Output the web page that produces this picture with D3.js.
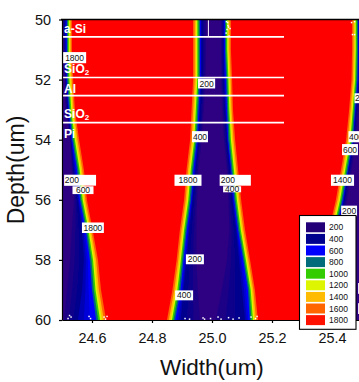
<!DOCTYPE html>
<html><head><meta charset="utf-8">
<script src="https://cdn.jsdelivr.net/npm/d3@7"></script>
<style>html,body{margin:0;padding:0;background:#fff;overflow:hidden}svg{display:block}text{font-family:"Liberation Sans",Arial,sans-serif}</style>
</head><body><div id="c"></div>
<script>
// Depth rows (um) at which the contour positions were read
const depths=[50,51,52,53,54,55,56,57,58,59,60];
// Width position (um) of contours, per depth row
const leftValley1800=[24.533,24.533,24.537,24.543,24.557,24.573,24.583,24.602,24.62,24.63,24.647];
const leftValley600 =[24.516,24.516,24.517,24.523,24.534,24.55,24.56,24.579,24.593,24.6,24.614];
const leftValley400 =[24.51,24.51,24.513,24.52,24.53,24.54,24.553,24.567,24.573,24.567,24.553];
const leftValley200 =[24.503,24.507,24.51,24.513,24.527,24.533,24.54,24.533,24.527,24.517,24.507];
const centerL1800=[24.937,24.937,24.937,24.932,24.927,24.915,24.907,24.893,24.882,24.868,24.85];
const centerR1800=[25.063,25.063,25.067,25.07,25.077,25.087,25.097,25.11,25.127,25.143,25.153];
const centerL600 =[24.96,24.96,24.96,24.955,24.95,24.938,24.93,24.916,24.905,24.895,24.877];
const centerR600 =[25.043,25.043,25.047,25.05,25.054,25.064,25.074,25.087,25.104,25.12,25.126];
const centerL400 =[24.965,24.965,24.965,24.96,24.955,24.945,24.935,24.925,24.915,24.905,24.895];
const centerR400 =[25.038,25.038,25.04,25.044,25.05,25.06,25.068,25.08,25.09,25.1,25.11];
const centerL200 =[24.98,24.98,24.978,24.972,24.965,24.955,24.95,24.948,24.948,24.952,24.96];
const centerR200 =[25.03,25.03,25.03,25.034,25.04,25.05,25.055,25.058,25.05,25.033,25.013];
const rightValley1800=[25.467,25.467,25.465,25.457,25.447,25.43,25.413,25.39,25.36,25.33,25.3];
const rightValley600 =[25.487,25.487,25.485,25.477,25.47,25.453,25.436,25.413,25.383,25.353,25.323];
const rightValley400 =[25.49,25.49,25.49,25.48,25.472,25.456,25.44,25.42,25.395,25.37,25.35];
const rightValley200 =[25.497,25.497,25.497,25.49,25.48,25.465,25.45,25.433,25.42,25.4,25.38];
// Colour levels: legend values and colours
const levels=[200,400,600,800,1000,1200,1400,1600,1800];
const legendColors=["#240078","#00008f","#0000ff","#006b7a","#33cc00","#ddf500","#ffbb00","#ff6600","#ff1100"];
const fieldColors={200:"#2d0082",400:"#00008f",600:"#0000ff",800:"#006b7a",1000:"#33cc00",1200:"#ddf500",1400:"#ffbb00",1600:"#ff6600"};
// Share of the 1800-to-600 transition at which each level sits
const transitionLevels=[1600,1400,1200,1000,800,600];
const transitionShare=[0,0.23,0.43,0.61,0.8,1];
// Blend steps between the stored contours
const blendSteps=[0.34,0.67];
// Layers
const layerNames=["a-Si","SiO","Al","SiO","Pi"];
const layerSub=[null,"2",null,"2",null];
const layerBaseline=[50.45,51.78,52.45,53.28,53.95];
const layerLines=[50.58,51.93,52.53,53.43];
const lineEnd=25.24;
// Contour labels
const labelText=["1800","200","200","400","400","600","1800","200","1400","200","600","400","1800","200","400","200"];
const labelX=[24.542,24.982,25.5,24.96,25.48,25.46,24.92,25.053,25.435,24.533,24.57,25.067,24.603,24.943,24.907,25.457];
const labelY=[51.27,52.13,52.62,53.9,53.9,54.33,55.35,55.35,55.35,55.35,55.68,55.65,56.93,57.98,59.18,56.37];
const labelW=[0.077,0.057,0.05,0.053,0.05,0.053,0.09,0.055,0.077,0.052,0.07,0.06,0.073,0.06,0.06,0.053];
const labelH=[0.37,0.33,0.33,0.37,0.37,0.37,0.37,0.37,0.37,0.37,0.26,0.2,0.35,0.33,0.33,0.35];
// Clipped fragments of white label boxes
const patchX=[24.585,25.103,25.497,25.497];
const patchY=[55.35,55.35,58.95,59.62];
const patchW=[0.057,0.053,0.02,0.02];
// White specks from clipped labels
const specksX=[25.048,25.052,25.055,25.05,25.06,25.047,25.057,25.053,25.465,25.475,25.468,25.475,24.52,24.53,24.525,24.595,24.59,24.64,24.65,24.645,24.91,24.925,24.97,24.975,24.995,25.02,25.03,25.055,25.07,25.09,25.13,25.145,25.15];
const specksY=[50.07,50.1,50.25,50.33,50.3,50.45,50.55,50.2,50.1,50.07,50.5,50.5,59.95,59.9,59.85,59.95,59.88,59.9,59.88,59.97,59.95,59.97,59.93,59.97,59.95,59.9,59.97,59.92,59.97,59.93,59.9,59.95,59.88];

const W=359,H=382;
const svg=d3.select("#c").append("svg").attr("width",W).attr("height",H);
const x=d3.scaleLinear().domain([24.5,25.5]).range([62,362]);
const y=d3.scaleLinear().domain([50,60]).range([19.5,320]);
const defs=svg.append("defs");
defs.append("clipPath").attr("id","plot").append("rect").attr("x",62).attr("y",19.5).attr("width",W-62).attr("height",300.5);
defs.append("filter").attr("id","soft").attr("x","-10%").attr("y","-10%").attr("width","120%").attr("height","120%")
  .append("feGaussianBlur").attr("stdDeviation",0.45);
const plot=svg.append("g").attr("clip-path","url(#plot)");
plot.append("rect").attr("x",40).attr("y",0).attr("width",340).attr("height",340).attr("fill","#ff0000");
const field=plot.append("g").attr("filter","url(#soft)");
const farLeft=24.3,farRight=25.7;
const area=d3.area().y(d=>y(d.d)).x0(d=>x(d.a)).x1(d=>x(d.b));
function band(aArr,bArr,color){
  const rows=depths.map((d,i)=>({d,a:aArr?aArr[i]:farLeft,b:bArr?bArr[i]:farRight}));
  rows.unshift({...rows[0],d:49});rows.push({...rows[rows.length-1],d:61});
  field.append("path").attr("d",area(rows)).attr("fill",color);
}
const mix=(A,B,t)=>A?A.map((p,i)=>p+(B[i]-p)*t):null;
function valley(L1800,R1800,L600,R600,L400,R400,L200,R200){
  transitionLevels.forEach((lv,k)=>band(mix(L1800,L600,transitionShare[k]),mix(R1800,R600,transitionShare[k]),fieldColors[lv]));
  blendSteps.forEach(t=>band(mix(L600,L400,t),mix(R600,R400,t),d3.interpolateRgb(fieldColors[600],fieldColors[400])(t)));
  band(L400,R400,fieldColors[400]);
  blendSteps.forEach(t=>band(mix(L400,L200,t),mix(R400,R200,t),d3.interpolateRgb(fieldColors[400],fieldColors[200])(t)));
  band(L200,R200,fieldColors[200]);
}
valley(null,leftValley1800,null,leftValley600,null,leftValley400,null,leftValley200);
valley(centerL1800,centerR1800,centerL600,centerR600,centerL400,centerR400,centerL200,centerR200);
valley(rightValley1800,null,rightValley600,null,rightValley400,null,rightValley200,null);

// specks
plot.append("g").selectAll("rect").data(d3.zip(specksX,specksY)).join("rect")
  .attr("x",d=>x(d[0])-0.7).attr("y",d=>y(d[1])-0.7).attr("width",1.5).attr("height",1.5).attr("fill","#fff");
// layer lines
plot.append("g").selectAll("line").data(layerLines).join("line")
  .attr("x1",x(24.5)).attr("x2",x(lineEnd)).attr("y1",d=>y(d)).attr("y2",d=>y(d))
  .attr("stroke","#fff").attr("stroke-width",1.7);
plot.append("line").attr("x1",x(24.988)).attr("x2",x(24.988)).attr("y1",y(50)).attr("y2",y(50.58)).attr("stroke","#fff").attr("stroke-width",1);
// patches
plot.append("g").selectAll("rect").data(d3.zip(patchX,patchY,patchW)).join("rect")
  .attr("x",d=>x(d[0]-d[2]/2)).attr("y",d=>y(d[1]-0.18)).attr("width",d=>x(d[2])-x(0)).attr("height",y(50.36)-y(50)).attr("fill","#fff");
// contour labels
const lab=plot.append("g").selectAll("g").data(labelText.map((t,i)=>({t,x:labelX[i],y:labelY[i],w:labelW[i],h:labelH[i]}))).join("g");
lab.append("rect").attr("x",d=>x(d.x-d.w/2)).attr("y",d=>y(d.y-d.h/2)).attr("width",d=>x(d.w)-x(0)).attr("height",d=>y(50+d.h)-y(50)).attr("fill","#fff");
lab.append("text").attr("x",d=>x(d.x)).attr("y",d=>y(d.y)).attr("dy","0.36em").attr("text-anchor","middle").attr("font-size",8.5).attr("fill","#111").text(d=>d.t);
// layer names
layerNames.forEach((n,i)=>{
  const t=plot.append("text").attr("x",x(24.507)).attr("y",y(layerBaseline[i])).attr("fill","#fff").attr("font-weight","bold").attr("font-size",12).text(n);
  if(layerSub[i]) t.append("tspan").attr("font-size",8).attr("dy","2").text(layerSub[i]);
});
// axes
const xAxis=d3.axisBottom(x).tickValues([24.6,24.8,25.0,25.2,25.4]).tickFormat(d3.format(".1f")).tickSize(3).tickSizeOuter(0).tickPadding(10);
const yAxis=d3.axisLeft(y).tickValues([50,52,54,56,58,60]).tickSize(3).tickSizeOuter(0).tickPadding(8);
const gx=svg.append("g").attr("transform","translate(0,320)").call(xAxis);
const gy=svg.append("g").attr("transform","translate(62,0)").call(yAxis);
[gx,gy].forEach(g=>{g.selectAll("text").attr("font-size",14.4).attr("font-family",'"Liberation Sans",Arial,sans-serif').attr("fill","#111");
  g.selectAll("path,line").attr("stroke","#000").attr("stroke-width",1.2);});
svg.append("line").attr("x1",61).attr("x2",W).attr("y1",19.5).attr("y2",19.5).attr("stroke","#000").attr("stroke-width",1.4);
// titles
svg.append("text").attr("x",212).attr("y",375).attr("text-anchor","middle").attr("font-size",22.5).attr("fill","#111").text("Width(um)");
svg.append("text").attr("transform","translate(24,170) rotate(-90)").attr("text-anchor","middle").attr("font-size",23).attr("fill","#111").text("Depth(um)");
// legend
const lg=svg.append("g");
lg.append("rect").attr("x",299.5).attr("y",215.5).attr("width",56.5).attr("height",113.8).attr("fill","#fff").attr("stroke","#000").attr("stroke-width",1.1);
const ly=d3.scaleBand().domain(levels).range([222.3,325.1]).paddingInner(0.14).paddingOuter(0);
lg.selectAll("rect.s").data(levels).join("rect").attr("class","s").attr("x",306).attr("y",d=>ly(d)).attr("width",19).attr("height",ly.bandwidth()).attr("fill",(d,i)=>legendColors[i]);
lg.selectAll("text").data(levels).join("text").attr("x",329).attr("y",d=>ly(d)+ly.bandwidth()/2).attr("dy","0.36em").attr("font-size",8.5).attr("fill","#111").text(d=>d);
</script></body></html>
